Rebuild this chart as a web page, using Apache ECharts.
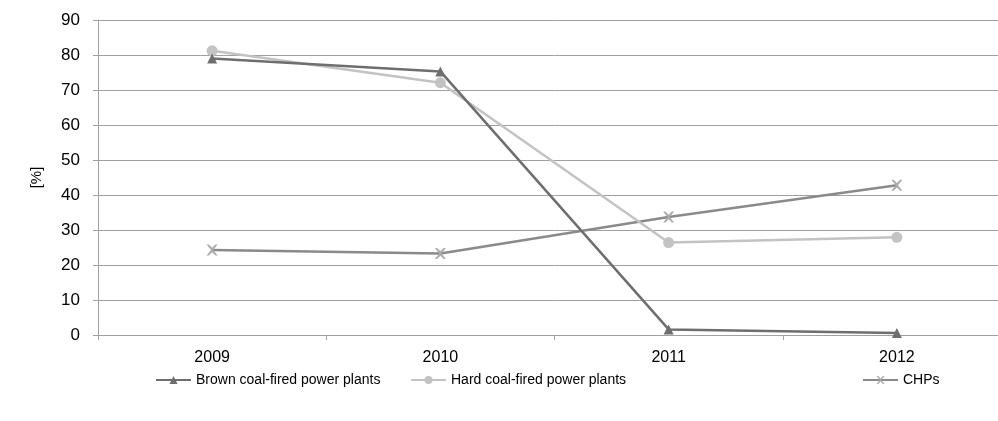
<!DOCTYPE html>
<html><head><meta charset="utf-8">
<script src="https://cdn.jsdelivr.net/npm/echarts@6/dist/echarts.min.js"></script>
<style>html,body{margin:0;padding:0;background:#fff;overflow:hidden}#c{width:1014px;height:421px}</style>
</head><body><div id="c"></div>
<script>
var categories = ['2009', '2010', '2011', '2012'];
var brownCoal = [79.0, 75.3, 1.6, 0.6];
var hardCoal = [81.2, 72.1, 26.4, 27.9];
var chps = [24.3, 23.3, 33.7, 42.8];
var yTicks = [0, 10, 20, 30, 40, 50, 60, 70, 80, 90];
var seriesNames = ['Brown coal-fired power plants', 'Hard coal-fired power plants', 'CHPs'];

var chart = echarts.init(document.getElementById('c'), null, {renderer: 'canvas'});
var font = 'Liberation Sans, Arial, sans-serif';
function legend(name, left) {
  return {
    data: [name], left: left, top: 373, itemWidth: 35, itemHeight: 10, itemGap: 4,
    textStyle: {fontFamily: font, fontSize: 14, color: '#000'}, padding: 0
  };
}
chart.setOption({
  animation: false,
  grid: {left: 98, top: 20, width: 913, height: 315, containLabel: false},
  legend: [legend(seriesNames[0], 155), legend(seriesNames[1], 410), legend(seriesNames[2], 862)],
  xAxis: {
    type: 'category', data: categories, boundaryGap: true,
    axisLine: {lineStyle: {color: '#a0a0a0', width: 1}},
    axisTick: {show: true, length: 5, lineStyle: {color: '#a0a0a0'}},
    axisLabel: {fontFamily: font, fontSize: 16, color: '#000', margin: 15}
  },
  yAxis: {
    type: 'value', min: yTicks[0], max: yTicks[yTicks.length - 1], interval: 10,
    name: '[%]', nameLocation: 'middle', nameGap: 54, nameRotate: 90,
    nameTextStyle: {fontFamily: font, fontSize: 15, color: '#000'},
    axisLine: {show: true, lineStyle: {color: '#a0a0a0'}},
    axisTick: {show: true, length: 5, inside: false, lineStyle: {color: '#a0a0a0'}},
    axisLabel: {fontFamily: font, fontSize: 17, color: '#000', margin: 18},
    splitLine: {lineStyle: {color: '#a0a0a0', width: 1}}
  },
  series: [
    {name: seriesNames[0], type: 'line', data: brownCoal, symbol: 'triangle', symbolSize: 10,
     lineStyle: {color: '#6e6e6e', width: 2.5}, itemStyle: {color: '#6e6e6e'}, z: 4},
    {name: seriesNames[1], type: 'line', data: hardCoal, symbol: 'circle', symbolSize: 11,
     lineStyle: {color: '#c3c3c3', width: 2.5}, itemStyle: {color: '#c3c3c3'}, z: 3},
    {name: seriesNames[2], type: 'line', data: chps,
     symbol: 'path://M0,0 L2,0 L5,3 L8,0 L10,0 L6,5 L10,10 L8,10 L5,7 L2,10 L0,10 L4,5 Z', symbolSize: 11,
     lineStyle: {color: '#8a8a8a', width: 2.5}, itemStyle: {color: '#ababab'}, z: 2}
  ]
});
</script></body></html>
